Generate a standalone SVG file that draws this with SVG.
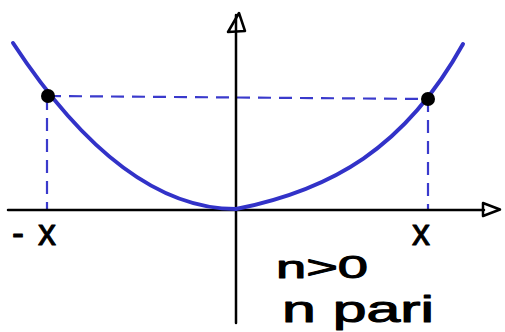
<svg xmlns="http://www.w3.org/2000/svg" width="505" height="332" viewBox="0 0 505 332">
<style>
.axis{fill:none;stroke:#000;stroke-width:2.5;stroke-linecap:round;stroke-linejoin:round}
.curve{fill:none;stroke:#3232c8;stroke-width:4;stroke-linecap:round;stroke-linejoin:round}
.dash{fill:none;stroke:#3a3acc;stroke-width:2.2;stroke-dasharray:13 8}
.pt{fill:#000}
.lbl{font-family:"Liberation Sans",Arial,sans-serif;fill:#000;stroke:#000;stroke-width:1;stroke-linejoin:round}
</style>
<rect width="505" height="332" fill="#fff"/>
<g id="guides">
<line class="dash" x1="48" y1="96" x2="428" y2="99"/>
<line class="dash" x1="47" y1="97" x2="47" y2="209"/>
<line class="dash" x1="428" y1="99" x2="428" y2="209"/>
</g>
<g id="axes">
<line class="axis" x1="8" y1="210" x2="484" y2="210"/>
<path class="axis" d="M483,203 L500,209.5 L483,216 Z"/>
<line class="axis" x1="236" y1="323" x2="236" y2="15"/>
<path class="axis" d="M228,32 L239,13 L245,31 Z"/>
</g>
<g id="curve">
<path class="curve" d="M13,43 C55,107 134,209 236,209 C331,190 405,148.4 463,44"/>
</g>
<g id="points">
<circle class="pt" cx="48" cy="96" r="7"/>
<circle class="pt" cx="428" cy="99" r="7"/>
</g>
<g id="labels">
<text class="lbl" x="12" y="245" font-size="36">-<tspan dx="14">x</tspan></text>
<text class="lbl" x="412" y="245" font-size="36">x</text>
<text class="lbl" x="276" y="278" font-size="32" textLength="92" lengthAdjust="spacingAndGlyphs">n&gt;0</text>
<text class="lbl" x="282" y="322" font-size="36" textLength="152" lengthAdjust="spacingAndGlyphs">n pari</text>
</g>
</svg>
